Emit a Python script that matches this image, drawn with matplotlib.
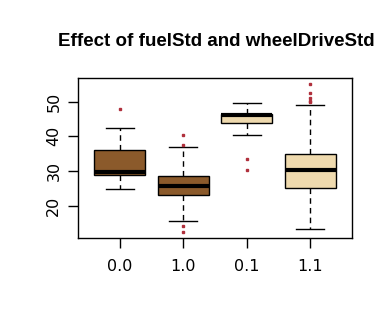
import numpy as np
import matplotlib
matplotlib.use("Agg")
import matplotlib.pyplot as plt

groups = ["0.0", "1.0", "0.1", "1.1"]
q1 = [28.8, 23.0, 43.8, 25.1]
med = [29.6, 25.6, 46.2, 30.3]
q3 = [36.0, 28.7, 46.4, 34.8]
whislo = [24.75, 15.5, 40.3, 13.2]
whishi = [42.3, 36.9, 49.5, 49.0]
fliers = [[47.9], [40.4, 37.5, 14.3, 12.4], [33.5, 30.4], [55.1, 52.6, 50.9, 50.2, 49.8]]
colors = ["#8B5A2B", "#8B5A2B", "#EED9AE", "#EFDAAE"]

stats = []
for i in range(len(groups)):
    stats.append(dict(label=groups[i], q1=q1[i], med=med[i], q3=q3[i],
                      whislo=whislo[i], whishi=whishi[i], fliers=fliers[i]))

fig = plt.figure(figsize=(3.92, 3.36), dpi=100)
ax = fig.add_axes([78/392, 1-238/336, 274/392, 160/336])

bp = ax.bxp(stats, positions=[1, 2, 3, 4], widths=0.8, patch_artist=True,
            boxprops=dict(linewidth=1.0, edgecolor="black"),
            medianprops=dict(color="black", linewidth=3.0, solid_capstyle="butt"),
            whiskerprops=dict(linestyle=(0, (4, 3)), linewidth=1.0, color="black"),
            capprops=dict(linewidth=1.0, color="black"),
            capwidths=0.44,
            flierprops=dict(marker="s", markersize=1.6, markerfacecolor="#B0303C",
                            markeredgecolor="#B0303C", linestyle="none"))
for patch, c in zip(bp["boxes"], colors):
    patch.set_facecolor(c)

ax.set_xlim(0.34, 4.66)
ax.set_ylim(10.7, 56.8)
ax.set_yticks([20, 30, 40, 50])
ax.set_yticklabels(["20", "30", "40", "50"], rotation=90, va="center", fontsize=11.5)
ax.set_xticks([1, 2, 3, 4])
ax.set_xticklabels(groups, fontsize=11.5)
ax.tick_params(axis="both", length=7, width=1, colors="black")
ax.tick_params(axis="x", pad=8)
ax.tick_params(axis="y", pad=5)
for s in ax.spines.values():
    s.set_linewidth(1.0)

fig.text(216/392, 1-42/336, "Effect of fuelStd and wheelDriveStd",
         ha="center", va="center", fontsize=13.5, fontweight="bold",
         family="Liberation Sans")

fig.savefig("out.png", dpi=100)
